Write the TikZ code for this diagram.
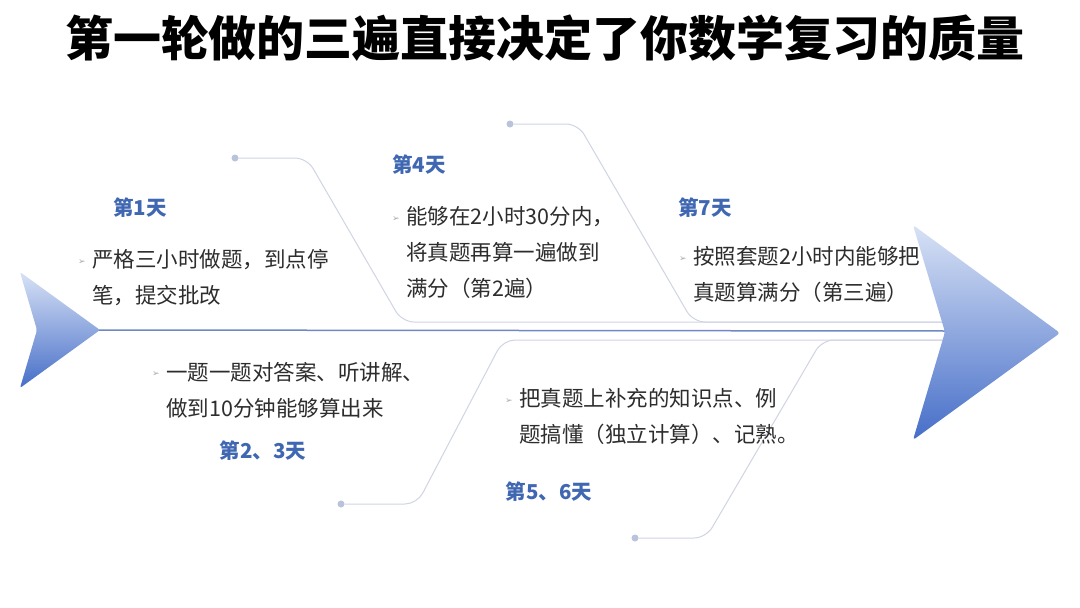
\documentclass[tikz,border=0pt]{standalone}
\usepackage{fontspec}
\newfontfamily\cjk{Noto Sans CJK SC}
\newfontfamily\dejavu{DejaVu Sans}
\definecolor{lblblue}{RGB}{64,104,178}
\definecolor{spine}{RGB}{112,137,196}
\definecolor{thin}{RGB}{208,213,228}
\definecolor{dotc}{RGB}{185,195,220}
\definecolor{bodytxt}{RGB}{45,45,45}
\definecolor{arrtop}{RGB}{216,226,245}
\definecolor{arrbot}{RGB}{70,110,200}
\definecolor{bulletc}{RGB}{170,170,170}
\tikzset{
  dotnode/.style={circle,fill=dotc,inner sep=0pt,minimum size=7pt},
  branch/.style={draw=thin,line width=1pt,rounded corners=12pt},
  daylabel/.style={font=\cjk\bfseries\fontsize{20.5}{24}\selectfont,text=lblblue,inner sep=0pt},
  bodytext/.style={font=\cjk\fontsize{21.5}{36}\selectfont,text=bodytxt,align=left,anchor=north west,inner sep=0pt},
  bulletnode/.style={font=\dejavu\fontsize{9}{10}\selectfont,text=bulletc,inner sep=0pt}
}
\begin{document}
\begin{tikzpicture}[x=1pt,y=-1pt]
\useasboundingbox (0,0) rectangle (1080,608);
\fill[white] (0,0) rectangle (1080,608);

% title
\node[font=\cjk\bfseries\fontsize{48}{52}\selectfont,text=black] (title) at (545,38) {第一轮做的三遍直接决定了你数学复习的质量};

% branch dots and bend coordinates
\node[dotnode] (d1) at (235,158) {};
\node[dotnode] (d4) at (510,124) {};
\node[dotnode] (d23) at (341,504) {};
\node[dotnode] (d56) at (635,538) {};
\coordinate (b1a) at (307,158);
\coordinate (b1b) at (402,322);
\coordinate (b4a) at (578,124);
\coordinate (b4b) at (693,322);
\coordinate (b23a) at (417,504);
\coordinate (b23b) at (503,340);
\coordinate (b56a) at (706,538);
\coordinate (b56b) at (822,340);
\coordinate (topend) at (945,322);
\coordinate (botend) at (945,340);

\draw[branch] (d1) -- (b1a) -- (b1b) -- (topend);
\draw[branch] (d4) -- (b4a) -- (b4b) -- (topend);
\draw[branch] (d23) -- (b23a) -- (b23b) -- (botend);
\draw[branch] (d56) -- (b56a) -- (b56b) -- (botend);

% spine
\coordinate (spinel) at (98,330);
\coordinate (spiner) at (946,331);
\draw[spine,line width=1.5pt] (spinel) -- (spiner);

% arrows
\shade[top color=arrtop,bottom color=arrbot,rounded corners=2pt]
  (20,272) -- (100,330) -- (20,388) -- (37,330) -- cycle;
\shade[top color=arrtop,bottom color=arrbot,rounded corners=3pt]
  (913,225) -- (1060,333) -- (913,440) -- (945,332) -- cycle;

% day labels
\node[daylabel] (l1) at (140,208) {第1天};
\node[daylabel] (l4) at (419,165) {第4天};
\node[daylabel] (l7) at (705,208) {第7天};
\node[daylabel] (l23) at (263,451) {第2、3天};
\node[daylabel] (l56) at (549,492) {第5、6天};

% bullets
\node[bulletnode] (u1) at (82,262) {➢};
\node[bulletnode] (u4) at (396,219) {➢};
\node[bulletnode] (u7) at (683,259) {➢};
\node[bulletnode] (u23) at (156,374) {➢};
\node[bulletnode] (u56) at (509,401) {➢};

% body texts
\node[bodytext] (t1) at (92,249.5) {严格三小时做题，到点停\\笔，提交批改};
\node[bodytext] (t4) at (406,206.5) {能够在2小时30分内，\\将真题再算一遍做到\\满分（第2遍）};
\node[bodytext] (t7) at (693,246.5) {按照套题2小时内能够把\\真题算满分（第三遍）};
\node[bodytext] (t23) at (166,362.5) {一题一题对答案、听讲解、\\做到10分钟能够算出来};
\node[bodytext] (t56) at (519,388.5) {把真题上补充的知识点、例\\题搞懂（独立计算）、记熟。};
\end{tikzpicture}
\end{document}
